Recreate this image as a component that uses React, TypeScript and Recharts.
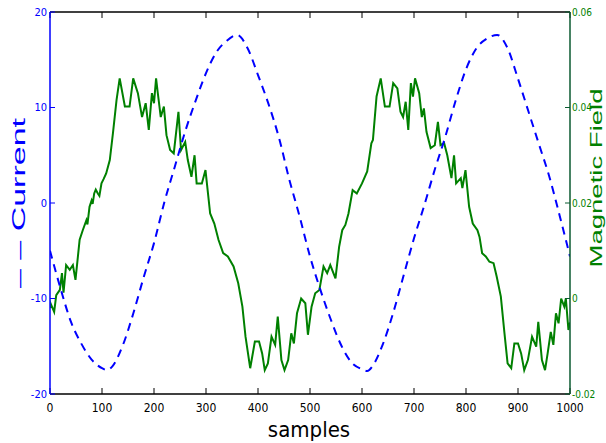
import React from 'react';
import { LineChart, Line, XAxis, YAxis } from 'recharts';

// current (left axis), sampled every 20 samples
const currentSamples = [
  0, 20, 40, 60, 80, 100, 110, 120, 140, 160, 180, 200, 220, 240, 260, 280, 300, 320, 340, 360,
  380, 400, 420, 440, 460, 480, 500, 520, 540, 560, 580, 600, 610, 620, 640, 660, 680, 700, 720,
  740, 760, 780, 800, 820, 840, 860, 880, 900, 920, 940, 960, 980, 1000,
];
const currentValues = [
  -5.0, -8.9, -12.4, -14.7, -16.4, -17.3, -17.5, -17.1, -14.9, -11.6, -7.8, -4.2, 0.1, 3.8, 7.5,
  10.7, 13.6, 15.8, 17.0, 17.6, 16.2, 13.4, 10.4, 6.9, 2.5, -1.4, -5.6, -9.1, -12.2, -14.9, -16.7,
  -17.4, -17.6, -17.1, -14.8, -11.5, -7.6, -3.7, -0.2, 3.5, 6.9, 10.7, 14.0, 16.2, 17.2, 17.6, 16.2,
  13.0, 9.6, 6.2, 2.8, -1.3, -5.6,
];

// magnetic field (right axis)
const fieldSamples = [
  0, 1, 8, 12, 19, 23, 26, 31, 38, 44, 49, 57, 63, 70, 72, 76, 80, 82, 85, 88, 92, 95, 99, 103,
  108, 115, 121, 128, 134, 144, 153, 160, 169, 177, 184, 190, 196, 200, 204, 207, 213, 219, 224,
  231, 238, 247, 252, 260, 265, 272, 278, 282, 292, 299, 308, 316, 324, 333, 342, 353, 362, 370,
  376, 385, 394, 402, 408, 413, 419, 426, 433, 438, 445, 451, 458, 464, 469, 475, 483, 491, 496,
  503, 510, 518, 526, 533, 539, 549, 556, 562, 568, 574, 582, 590, 600, 610, 618, 621, 628, 636,
  644, 653, 660, 668, 674, 679, 684, 689, 694, 698, 702, 710, 715, 719, 724, 732, 740, 746, 751,
  758, 764, 772, 777, 781, 790, 793, 799, 806, 813, 822, 826, 831, 838, 845, 853, 859, 867, 874,
  880, 887, 893, 900, 906, 912, 919, 927, 935, 939, 946, 952, 957, 963, 968, 973, 978, 983, 989,
  992, 997, 1000,
];
const fieldValues = [
  -0.002, -0.001, -0.0028, 0.0007, 0.0018, 0.0053, 0.0012, 0.007, 0.006, 0.007, 0.0039, 0.0123,
  0.0143, 0.0164, 0.0155, 0.0192, 0.0205, 0.0198, 0.022, 0.0228, 0.022, 0.0215, 0.0241, 0.025,
  0.0262, 0.029, 0.0346, 0.0416, 0.0461, 0.0402, 0.0402, 0.0461, 0.043, 0.038, 0.0409, 0.0353,
  0.043, 0.0409, 0.0461, 0.0433, 0.038, 0.0402, 0.0342, 0.0311, 0.0304, 0.0391, 0.0311, 0.0328,
  0.029, 0.0255, 0.03, 0.0241, 0.0241, 0.0269, 0.0178, 0.0157, 0.0123, 0.0095, 0.0088, 0.0067,
  0.0032, -0.0017, -0.008, -0.0146, -0.009, -0.009, -0.0115, -0.015, -0.0136, -0.008, -0.0097,
  -0.0038, -0.0129, -0.015, -0.0129, -0.0073, -0.0094, -0.0031, 0.0, -0.001, -0.0076, -0.0017,
  0.0011, 0.0018, 0.0067, 0.0053, 0.007, 0.0042, 0.0108, 0.0143, 0.0154, 0.0178, 0.0227, 0.022,
  0.0241, 0.0266, 0.0325, 0.0332, 0.0423, 0.0461, 0.0402, 0.0402, 0.0451, 0.044, 0.0391, 0.038,
  0.0412, 0.0353, 0.0451, 0.0423, 0.0461, 0.043, 0.038, 0.0398, 0.0349, 0.0315, 0.0321, 0.037,
  0.0321, 0.0325, 0.03, 0.0252, 0.03, 0.0241, 0.0252, 0.0231, 0.0269, 0.0192, 0.0157, 0.0143,
  0.0129, 0.0095, 0.0088, 0.0077, 0.0074, 0.0046, 0.0004, -0.0073, -0.0136, -0.0146, -0.0094,
  -0.0094, -0.0115, -0.015, -0.0129, -0.008, -0.0101, -0.0049, -0.0129, -0.015, -0.0115, -0.007,
  -0.0097, -0.0031, -0.0052, 0.0, -0.0017, 0.0, -0.0066, -0.005,
];

const xTicks = [0, 100, 200, 300, 400, 500, 600, 700, 800, 900, 1000];
const leftTicks = [-20, -10, 0, 10, 20];
const rightTicks = [-0.02, 0, 0.02, 0.04, 0.06];

const currentData = currentSamples.map((s, i) => ({ s, current: currentValues[i] }));
const fieldData = fieldSamples.map((s, i) => ({ s, field: fieldValues[i] }));

const narrow = "'Liberation Sans Narrow', 'DejaVu Sans Condensed', sans-serif";
const sans = "'Liberation Sans', Arial, sans-serif";

const BLUE = '#0000ff';
const GREEN = '#008000';

export default function App() {
  return (
    <div style={{ position: 'absolute', left: 0, top: 0, width: 606, height: 443, background: '#fff' }}>
      <LineChart width={606} height={443} margin={{ top: 11, right: 0, bottom: 0, left: 0 }}>
        <XAxis
          xAxisId="bottom"
          dataKey="s"
          type="number"
          domain={[0, 1000]}
          ticks={xTicks}
          height={49}
          stroke="#000"
          axisLine={{ stroke: '#000', strokeWidth: 1.5 }}
          tickSize={-6}
          tickMargin={15}
          tick={{ fill: '#000', fontSize: 12, fontFamily: narrow }}
          allowDataOverflow
        />
        <XAxis
          xAxisId="top"
          orientation="top"
          dataKey="s"
          type="number"
          domain={[0, 1000]}
          ticks={xTicks}
          height={1}
          stroke="#000"
          axisLine={{ stroke: '#000', strokeWidth: 1.5 }}
          tickSize={-6}
          tickFormatter={() => ''}
          allowDataOverflow
        />
        <YAxis
          yAxisId="left"
          domain={[-20, 20]}
          ticks={leftTicks}
          width={50}
          stroke={BLUE}
          axisLine={{ stroke: BLUE, strokeWidth: 1.5 }}
          tickSize={-5}
          tickMargin={8}
          tick={{ fill: BLUE, fontSize: 11, fontFamily: narrow }}
          allowDataOverflow
        />
        <YAxis
          yAxisId="right"
          orientation="right"
          domain={[-0.02, 0.06]}
          ticks={rightTicks}
          width={36}
          stroke="#0b5a30"
          axisLine={{ stroke: '#0b5a30', strokeWidth: 1.5 }}
          tickSize={-5}
          tickMargin={7}
          tick={{ fill: GREEN, fontSize: 10, fontFamily: narrow }}
          tickFormatter={(v: number) => (v === 0 ? '0' : v.toFixed(2))}
          allowDataOverflow
        />
        <Line
          data={fieldData}
          xAxisId="bottom"
          yAxisId="right"
          dataKey="field"
          type="linear"
          stroke={GREEN}
          strokeWidth={2}
          dot={false}
          activeDot={false}
          isAnimationActive={false}
        />
        <Line
          data={currentData}
          xAxisId="bottom"
          yAxisId="left"
          dataKey="current"
          type="monotone"
          stroke={BLUE}
          strokeWidth={2}
          strokeDasharray="8 6"
          dot={false}
          activeDot={false}
          isAnimationActive={false}
        />
      </LineChart>
      <svg
        width={606}
        height={443}
        style={{ position: 'absolute', left: 0, top: 0, pointerEvents: 'none' }}
      >
        <text
          x={309}
          y={437}
          textAnchor="middle"
          fontFamily={narrow}
          fontSize={22}
          fill="#000"
        >
          samples
        </text>
        <text
          x={25}
          y={203}
          textAnchor="middle"
          fontFamily={sans}
          fontSize={19}
          fill={BLUE}
          textLength={170}
          lengthAdjust="spacingAndGlyphs"
          transform="rotate(-90 25 203)"
        >
          – – Current
        </text>
        <text
          x={602}
          y={178}
          textAnchor="middle"
          fontFamily={sans}
          fontSize={17}
          fill={GREEN}
          textLength={179}
          lengthAdjust="spacingAndGlyphs"
          transform="rotate(-90 602 178)"
        >
          Magnetic Field
        </text>
      </svg>
    </div>
  );
}
